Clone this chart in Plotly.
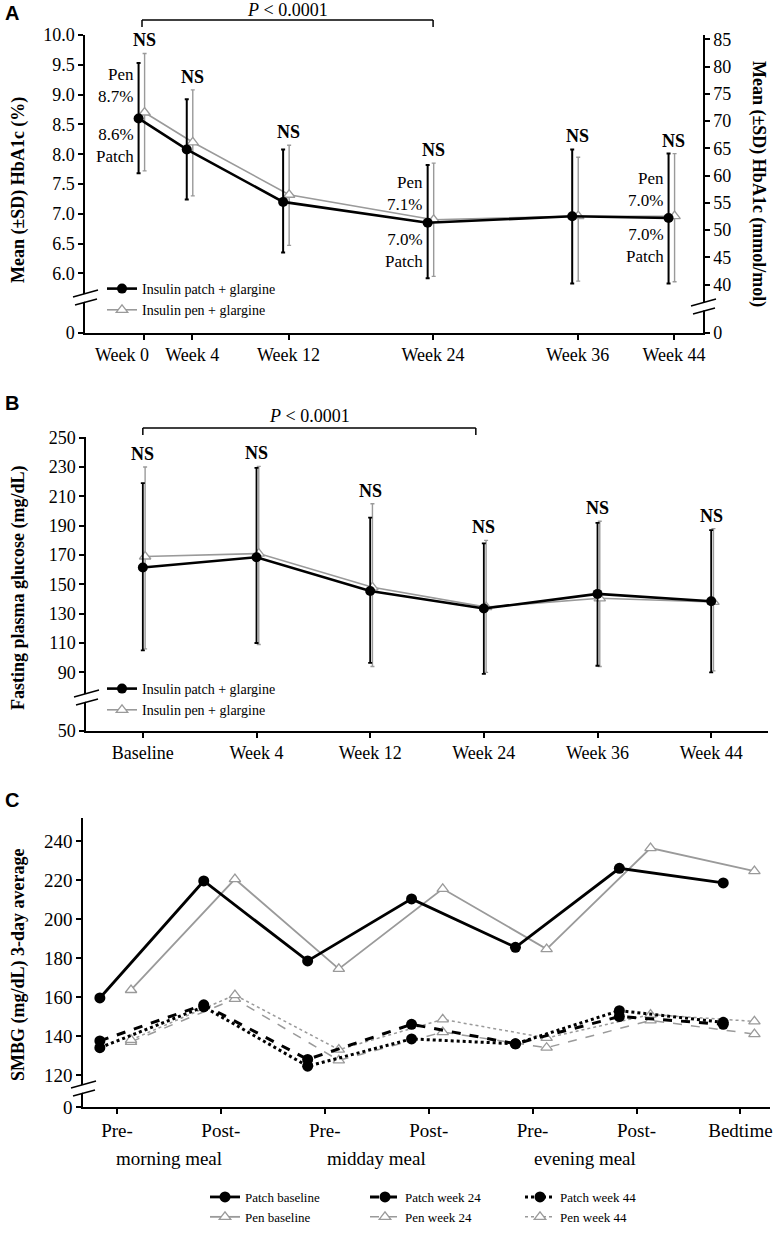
import plotly.graph_objects as go

W, H = 775, 1239
SERIF = "Liberation Serif"
SANS = "Liberation Sans"
GRAY = "#9a9a9a"

# ---------------- Panel A : HbA1c ----------------
weeks_a = [0, 4, 12, 24, 36, 44]
week_a_labels = ["Week 0", "Week 4", "Week 12", "Week 24", "Week 36", "Week 44"]
hba1c_patch = [8.6, 8.08, 7.2, 6.85, 6.96, 6.93]
hba1c_patch_upper = [9.53, 8.92, 8.08, 7.82, 8.08, 8.01]
hba1c_patch_lower = [7.68, 7.24, 6.35, 5.92, 5.83, 5.83]
hba1c_pen = [8.7, 8.2, 7.32, 6.9, 6.96, 6.96]
hba1c_pen_upper = [9.69, 9.08, 8.15, 7.85, 7.95, 8.01]
hba1c_pen_lower = [7.72, 7.3, 6.47, 5.95, 5.87, 5.86]
label_weeks_a = [0, 24, 44]
pen_labels_a = ["8.7%", "7.1%", "7.0%"]
patch_labels_a = ["8.6%", "7.0%", "7.0%"]
mmol_ticks = [40, 45, 50, 55, 60, 65, 70, 75, 80, 85]
pct_ticks = [6.0, 6.5, 7.0, 7.5, 8.0, 8.5, 9.0, 9.5, 10.0]

# ---------------- Panel B : FPG ----------------
visits_b = ["Baseline", "Week 4", "Week 12", "Week 24", "Week 36", "Week 44"]
fpg_patch = [161.5, 168.5, 145.5, 133.5, 143.5, 138.5]
fpg_patch_upper = [219, 229.5, 195.5, 178, 192, 187]
fpg_patch_lower = [105, 110, 96.5, 89, 94.5, 90]
fpg_pen = [169, 171, 148, 134.5, 140.5, 138]
fpg_pen_upper = [230, 230.5, 205, 180, 193, 188]
fpg_pen_lower = [106, 109, 94, 90, 94, 91]
fpg_ticks = [90, 110, 130, 150, 170, 190, 210, 230, 250]

# ---------------- Panel C : SMBG ----------------
times_c = ["Pre-", "Post-", "Pre-", "Post-", "Pre-", "Post-", "Bedtime"]
meal_groups = ["morning meal", "midday meal", "evening meal"]
smbg_patch_baseline = [159.5, 219.5, 178.5, 210.3, 185.5, 226, 218.5]
smbg_patch_wk24 = [137.5, 156, 128, 146, 136, 150, 146]
smbg_patch_wk44 = [134, 155, 124.5, 138.5, 136, 153, 147]
smbg_pen_baseline = [163.6, 220.5, 174.4, 215.5, 184.6, 236.4, 224.6]
smbg_pen_wk24 = [137, 159, 127.5, 142, 134, 148, 141]
smbg_pen_wk44 = [138, 161, 133, 148.5, 139, 151, 147.5]
smbg_ticks = [120, 140, 160, 180, 200, 220, 240]


def px(x):
    return x / W


def py(y):
    return 1 - y / H


# ---- layout geometry (pixels) ----
A_X0, A_X1, A_Y0, A_Y1 = 85, 703, 35, 333
A_XR = [(A_X0 - 144) / 12.045, (A_X1 - 144) / 12.045]
A_YR = [5.0, 10.0]


def to_mmol(p):
    return 10.929 * p - 23.5


B_X0, B_X1, B_Y0, B_Y1 = 86, 768, 437, 731
B_YR = [50, 250.5]
C_X0, C_X1, C_Y0, C_Y1 = 83, 770, 818, 1107
C_XR = [(C_X0 - 117) / 103.9, (C_X1 - 117) / 103.9]
C_ZERO = 120 - 32 / 1.95
C_YR = [C_ZERO, 251.8]


def a_xpix(week):
    return A_X0 + (week - A_XR[0]) / (A_XR[1] - A_XR[0]) * (A_X1 - A_X0)


def b_xpix(idx):
    return B_X0 + (idx + 0.5) / 6 * (B_X1 - B_X0)


fig = go.Figure()

# ---------- Panel A traces ----------
off_patch_a, off_pen_a = -0.45, 0.05
fig.add_trace(go.Scatter(
    x=[w + off_pen_a for w in weeks_a], y=hba1c_pen, mode="lines+markers",
    name="Insulin pen + glargine", legend="legend",
    line=dict(color=GRAY, width=1.6),
    marker=dict(symbol="triangle-up", size=10, color="white", line=dict(color=GRAY, width=1.3)),
    error_y=dict(type="data", symmetric=False,
                 array=[u - m for u, m in zip(hba1c_pen_upper, hba1c_pen)],
                 arrayminus=[m - l for m, l in zip(hba1c_pen, hba1c_pen_lower)],
                 color=GRAY, thickness=1.4, width=2),
    xaxis="x", yaxis="y"))
fig.add_trace(go.Scatter(
    x=[w + off_patch_a for w in weeks_a], y=hba1c_patch, mode="lines+markers",
    name="Insulin patch + glargine", legend="legend",
    line=dict(color="black", width=2.6),
    marker=dict(symbol="circle", size=10, color="black"),
    error_y=dict(type="data", symmetric=False,
                 array=[u - m for u, m in zip(hba1c_patch_upper, hba1c_patch)],
                 arrayminus=[m - l for m, l in zip(hba1c_patch, hba1c_patch_lower)],
                 color="black", thickness=2, width=2),
    xaxis="x", yaxis="y"))
# invisible trace to activate right axis
fig.add_trace(go.Scatter(x=[weeks_a[0]], y=[to_mmol(hba1c_patch[0])], mode="markers",
                         marker=dict(opacity=0), showlegend=False, hoverinfo="skip",
                         xaxis="x", yaxis="y2"))

# ---------- Panel B traces ----------
off_patch_b, off_pen_b = 0.0, 0.02
fig.add_trace(go.Scatter(
    x=[i + off_pen_b for i in range(len(visits_b))], y=fpg_pen, mode="lines+markers",
    name="Insulin pen + glargine", legend="legend2",
    line=dict(color=GRAY, width=1.6),
    marker=dict(symbol="triangle-up", size=10, color="white", line=dict(color=GRAY, width=1.3)),
    error_y=dict(type="data", symmetric=False,
                 array=[u - m for u, m in zip(fpg_pen_upper, fpg_pen)],
                 arrayminus=[m - l for m, l in zip(fpg_pen, fpg_pen_lower)],
                 color=GRAY, thickness=1.4, width=2),
    xaxis="x2", yaxis="y3"))
fig.add_trace(go.Scatter(
    x=[i + off_patch_b for i in range(len(visits_b))], y=fpg_patch, mode="lines+markers",
    name="Insulin patch + glargine", legend="legend2",
    line=dict(color="black", width=2.6),
    marker=dict(symbol="circle", size=10, color="black"),
    error_y=dict(type="data", symmetric=False,
                 array=[u - m for u, m in zip(fpg_patch_upper, fpg_patch)],
                 arrayminus=[m - l for m, l in zip(fpg_patch, fpg_patch_lower)],
                 color="black", thickness=1.8, width=2),
    xaxis="x2", yaxis="y3"))

# ---------- Panel C traces ----------
off_patch_c, off_pen_c = -0.165, 0.135
xc_patch = [i + off_patch_c for i in range(len(times_c))]
xc_pen = [i + off_pen_c for i in range(len(times_c))]
pen_marker = dict(symbol="triangle-up", size=10, color="white", line=dict(color=GRAY, width=1.3))
patch_marker = dict(symbol="circle", size=11, color="black")
c_series = [
    ("Pen baseline", xc_pen, smbg_pen_baseline, dict(color=GRAY, width=1.8), pen_marker, "legend3"),
    ("Pen week 24", xc_pen, smbg_pen_wk24, dict(color=GRAY, width=1.5, dash="dash"), pen_marker, "legend4"),
    ("Pen week 44", xc_pen, smbg_pen_wk44, dict(color=GRAY, width=1.5, dash="dot"), pen_marker, "legend5"),
    ("Patch baseline", xc_patch, smbg_patch_baseline, dict(color="black", width=2.8), patch_marker, "legend3"),
    ("Patch week 24", xc_patch, smbg_patch_wk24, dict(color="black", width=3, dash="dash"), patch_marker, "legend4"),
    ("Patch week 44", xc_patch, smbg_patch_wk44, dict(color="black", width=3, dash="dot"), patch_marker, "legend5"),
]
for name, xs, ys, ln, mk, lg in c_series:
    fig.add_trace(go.Scatter(x=xs, y=ys, mode="lines+markers", name=name, legend=lg,
                             line=ln, marker=mk, xaxis="x3", yaxis="y4"))

tick_font = dict(family=SERIF, size=18, color="black")
axis_common = dict(showline=True, linecolor="black", linewidth=1.5, ticks="outside",
                   ticklen=5, tickwidth=1.5, tickcolor="black", showgrid=False,
                   zeroline=False, tickfont=tick_font, fixedrange=True, tickangle=0)


def legend_at(x, ytop, size=14):
    return dict(x=px(x), y=py(ytop), xref="container", yref="container",
                xanchor="left", yanchor="top", bgcolor="rgba(0,0,0,0)",
                font=dict(family=SERIF, size=size, color="black"), tracegroupgap=0,
                traceorder="reversed", borderwidth=0)


# Week 0 label is set off to the left of its tick (crowded with Week 4), as in the source
a_ticktext = [""] + week_a_labels[1:]

fig.update_layout(
    width=W, height=H, margin=dict(l=0, r=0, t=0, b=0, autoexpand=False),
    paper_bgcolor="white", plot_bgcolor="white", showlegend=True,
    xaxis=dict(axis_common, domain=[px(A_X0), px(A_X1)], range=A_XR,
               tickvals=weeks_a, ticktext=a_ticktext, anchor="y"),
    yaxis=dict(axis_common, domain=[py(A_Y1), py(A_Y0)], range=A_YR,
               tickvals=[A_YR[0]] + pct_ticks,
               ticktext=["0"] + [f"{v:.1f}" for v in pct_ticks], anchor="x"),
    yaxis2=dict(axis_common, domain=[py(A_Y1), py(A_Y0)],
                range=[to_mmol(A_YR[0]), to_mmol(A_YR[1])], overlaying="y", side="right",
                tickvals=[to_mmol(A_YR[0])] + mmol_ticks,
                ticktext=["0"] + [str(v) for v in mmol_ticks], anchor="x"),
    xaxis2=dict(axis_common, domain=[px(B_X0), px(B_X1)], range=[-0.5, 5.5],
                tickvals=list(range(len(visits_b))), ticktext=visits_b, anchor="y3"),
    yaxis3=dict(axis_common, domain=[py(B_Y1), py(B_Y0)], range=B_YR,
                tickvals=[50] + fpg_ticks, ticktext=[str(v) for v in [50] + fpg_ticks], anchor="x2"),
    xaxis3=dict(axis_common, domain=[px(C_X0), px(C_X1)], range=C_XR,
                tickvals=list(range(len(times_c))), ticktext=times_c, anchor="y4",
                tickfont=dict(family=SERIF, size=19, color="black")),
    yaxis4=dict(axis_common, domain=[py(C_Y1), py(C_Y0)], range=C_YR,
                tickvals=[C_ZERO] + smbg_ticks, ticktext=["0"] + [str(v) for v in smbg_ticks],
                anchor="x3", tickfont=dict(family=SERIF, size=19, color="black")),
    legend=legend_at(102, 273),
    legend2=legend_at(102, 673),
    legend3=legend_at(205, 1182, 13),
    legend4=legend_at(365, 1182, 13),
    legend5=legend_at(520, 1182, 13),
)

ann = []
shapes = []


def text(x, y, t, size=18, xanchor="center", yanchor="middle", angle=0, family=SERIF, **kw):
    ann.append(dict(x=px(x), y=py(y), xref="paper", yref="paper", text=t, showarrow=False,
                    xanchor=xanchor, yanchor=yanchor, textangle=angle,
                    font=dict(family=family, size=size, color="black"), **kw))


def line(x0, y0, x1, y1, color="black", width=1.5):
    shapes.append(dict(type="line", xref="paper", yref="paper", x0=px(x0), y0=py(y0),
                       x1=px(x1), y1=py(y1), line=dict(color=color, width=width), layer="above"))


def axis_break(xc, yc):
    path = (f"M {px(xc-12)} {py(yc-3)} L {px(xc+13)} {py(yc-10)} "
            f"L {px(xc+13)} {py(yc-2)} L {px(xc-12)} {py(yc+5)} Z")
    shapes.append(dict(type="path", xref="paper", yref="paper", path=path,
                       fillcolor="white", line=dict(width=0), layer="above"))
    line(xc - 12, yc - 3, xc + 13, yc - 10, width=1.4)
    line(xc - 10, yc + 5, xc + 12, yc - 1, width=1.4)


# panel letters
text(12, 13, "<b>A</b>", size=20, family=SANS)
text(12, 403, "<b>B</b>", size=20, family=SANS)
text(12, 800, "<b>C</b>", size=20, family=SANS)

# axis titles
text(18, 190, "<b>Mean (±SD) HbA1c (%)</b>", size=18, angle=-90)
text(759, 184, "<b>Mean (±SD) HbA1c (mmol/mol)</b>", size=18, angle=90)
text(18, 588, "<b>Fasting plasma glucose (mg/dL)</b>", size=18, angle=-90)
text(18, 965, "<b>SMBG (mg/dL) 3-day average</b>", size=18, angle=-90)

# Week 0 tick label (offset left of its tick)
text(a_xpix(weeks_a[0]) - 22, 355, week_a_labels[0], size=18)

# NS labels (data coords)
for i, w in enumerate(weeks_a):
    top = max(hba1c_patch_upper[i], hba1c_pen_upper[i])
    ann.append(dict(x=w, y=top, xref="x", yref="y", text="<b>NS</b>", showarrow=False,
                    yanchor="bottom", yshift=1, font=dict(family=SERIF, size=18, color="black")))
for i in range(len(visits_b)):
    top = max(fpg_patch_upper[i], fpg_pen_upper[i])
    ann.append(dict(x=i, y=top, xref="x2", yref="y3", text="<b>NS</b>", showarrow=False,
                    yanchor="bottom", yshift=1, font=dict(family=SERIF, size=18, color="black")))

# Pen / Patch value labels in panel A
for w, pl, al in zip(label_weeks_a, pen_labels_a, patch_labels_a):
    i = weeks_a.index(w)
    ann.append(dict(x=w + off_patch_a, y=hba1c_pen[i], xref="x", yref="y", text=f"Pen<br>{pl}",
                    showarrow=False, xanchor="right", yanchor="bottom", xshift=-3, yshift=4,
                    align="right", font=dict(family=SERIF, size=17, color="black")))
    ann.append(dict(x=w + off_patch_a, y=hba1c_patch[i], xref="x", yref="y", text=f"{al}<br>Patch",
                    showarrow=False, xanchor="right", yanchor="top", xshift=-3, yshift=-5,
                    align="right", font=dict(family=SERIF, size=17, color="black")))

# P-value brackets
ax0, ax1 = a_xpix(weeks_a[0]) - 2, a_xpix(weeks_a[3])
line(ax0, 20, ax1, 20)
line(ax0, 20, ax0, 27)
line(ax1, 20, ax1, 27)
text((ax0 + ax1) / 2, 10, "<i>P</i> &lt; 0.0001", size=18)
bx0, bx1 = b_xpix(0), b_xpix(3) - 8
line(bx0, 428, bx1, 428)
line(bx0, 428, bx0, 435)
line(bx1, 428, bx1, 435)
text((bx0 + bx1) / 2, 416, "<i>P</i> &lt; 0.0001", size=18)

# meal group labels under panel C
for k, g in enumerate(meal_groups):
    xv = 2 * k + 0.5
    xp = C_X0 + (xv - C_XR[0]) / (C_XR[1] - C_XR[0]) * (C_X1 - C_X0)
    text(xp, 1158, g, size=19)

# axis breaks
axis_break(A_X0, 300)
axis_break(A_X1, 309)
axis_break(B_X0, 700)
axis_break(C_X0, 1091)

fig.update_layout(annotations=ann, shapes=shapes)
fig.write_html(
    "out.html",
    config={"displayModeBar": False},
    post_script="document.body.style.margin='0px';"
                "document.documentElement.style.overflow='hidden';",
)
